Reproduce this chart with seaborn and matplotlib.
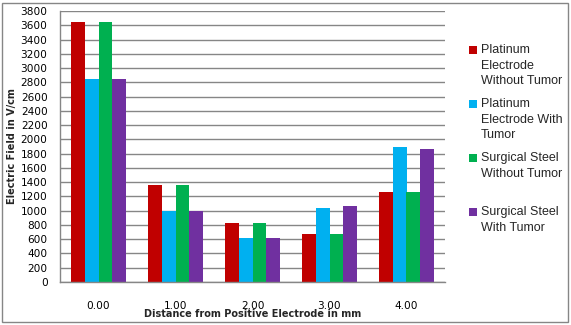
import matplotlib
matplotlib.use("Agg")
import matplotlib.pyplot as plt
import seaborn as sns
import pandas as pd
from matplotlib.patches import Rectangle

distances = ["0.00", "1.00", "2.00", "3.00", "4.00"]
series_names = ["Platinum Electrode Without Tumor", "Platinum Electrode With Tumor",
                "Surgical Steel Without Tumor", "Surgical Steel With Tumor"]
legend_labels = ["Platinum\nElectrode\nWithout Tumor", "Platinum\nElectrode With\nTumor",
                 "Surgical Steel\nWithout Tumor", "Surgical Steel\nWith Tumor"]
plat_without = [3650, 1365, 830, 680, 1265]
plat_with = [2840, 1000, 620, 1040, 1900]
steel_without = [3650, 1365, 830, 680, 1265]
steel_with = [2850, 990, 620, 1070, 1870]
colors = ["#C00000", "#00B0F0", "#00B050", "#7030A0"]
yticks = list(range(0, 3801, 200))

values = [plat_without, plat_with, steel_without, steel_with]
rows = []
for name, vals in zip(series_names, values):
    for d, v in zip(distances, vals):
        rows.append({"Distance": d, "Series": name, "Value": v})
df = pd.DataFrame(rows)

sns.set_style("white")
W, H = 571, 325
fig = plt.figure(figsize=(W / 100, H / 100), dpi=100)
ax = fig.add_axes([60 / W, (H - 282) / H, 385 / W, 271 / H])

sns.barplot(data=df, x="Distance", y="Value", hue="Series", order=distances,
            hue_order=series_names, palette=colors, width=0.727, saturation=1,
            ax=ax, legend=False, linewidth=0, errorbar=None)

ax.set_ylim(0, 3800)
ax.set_xlim(-0.5, 4.5)
ax.set_yticks(yticks)
ax.set_yticklabels([str(t) for t in yticks])
ax.yaxis.grid(True, color="#868686", linewidth=1)
ax.set_axisbelow(True)
for s in ["top", "right"]:
    ax.spines[s].set_visible(False)
for s in ["left", "bottom"]:
    ax.spines[s].set_color("#868686")
    ax.spines[s].set_linewidth(1)
ax.tick_params(axis="both", length=0, labelsize=7.6, colors="black")
ax.tick_params(axis="x", pad=14)
ax.tick_params(axis="y", pad=9)

ax.set_xlabel("Distance from Positive Electrode in mm", fontsize=7, fontweight="bold")
ax.set_ylabel("Electric Field in V/cm", fontsize=7, fontweight="bold")
ax.xaxis.set_label_coords(0.5, -0.10)
ax.yaxis.set_label_coords(-0.112, 0.5)

# Legend (manual, to keep handles aligned with the first text line)
ys = [50, 104, 158, 212]
for lab, c, y in zip(legend_labels, colors, ys):
    fig.patches.append(Rectangle((469 / W, (H - y - 4) / H), 8 / W, 8 / H,
                                 transform=fig.transFigure, facecolor=c, edgecolor="none"))
    fig.text(481 / W, (H - y + 6) / H, lab, fontsize=9, family="Liberation Sans",
             va="top", ha="left", linespacing=1.4)

fig.patches.append(Rectangle((2 / W, 3 / H), (W - 5) / W, (H - 6) / H,
                             transform=fig.transFigure, facecolor="none",
                             edgecolor="#868686", linewidth=1))

fig.savefig("out.png", dpi=100)
